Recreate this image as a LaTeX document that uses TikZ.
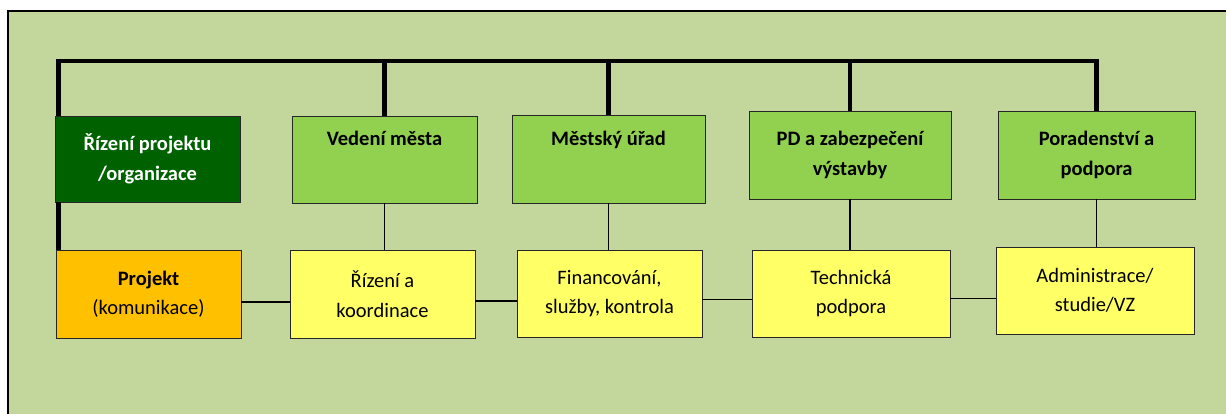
\documentclass[tikz,border=0pt]{standalone}
\usepackage{fontspec}
\setmainfont{Carlito}
\usepackage{tikz}
\usepackage{xcolor}
\usetikzlibrary{positioning, calc}
\definecolor{panelgreen}{HTML}{C3D69B}
\definecolor{headgreen}{HTML}{92D050}
\definecolor{darkhead}{HTML}{006100}
\definecolor{taskyellow}{HTML}{FFFF66}
\definecolor{projorange}{HTML}{FFC000}

\begin{document}
\begin{tikzpicture}[x=1pt,y=-1pt,
    box/.style={draw=black!85,line width=0.9pt,align=center,inner sep=2pt,
        font=\fontsize{20.5}{29.5}\selectfont},
    headbox/.style={box,fill=headgreen,font=\fontsize{20.5}{29.5}\selectfont\bfseries},
    taskbox/.style={box,fill=taskyellow},
    oneline/.style={text height=14pt,text depth=41pt},
    bus/.style={line width=4.5pt},
    link/.style={line width=1.6pt}]
\useasboundingbox (0,0) rectangle (1226,414);
% panel
\fill[panelgreen] (8,11) rectangle (1226,414);
\draw[line width=2pt] (8,414) -- (8,11) -- (1226,11);
% top row
\node[headbox,fill=darkhead,text=white,minimum width=185pt,minimum height=86pt] (rizeni) at (147.5,159) {Řízení projektu\\/organizace};
\node[headbox,oneline,minimum width=185pt,minimum height=87pt] (vedeni) at (384.5,159.5) {Vedení města};
\node[headbox,oneline,minimum width=193pt,minimum height=88pt] (urad) at (608.5,159) {Městský úřad};
\node[headbox,minimum width=202pt,minimum height=88pt] (pd) at (850,155) {PD a zabezpečení\\výstavby};
\node[headbox,minimum width=197pt,minimum height=88pt] (poradenstvi) at (1096.5,155) {Poradenství a\\podpora};
% bottom row
\node[taskbox,fill=projorange,minimum width=185pt,minimum height=88pt] (projekt) at (148.5,294) {\textbf{Projekt}\\(komunikace)};
\node[taskbox,minimum width=185pt,minimum height=88pt] (koordinace) at (382.5,294) {Řízení a\\koordinace};
\node[taskbox,minimum width=185pt,minimum height=87pt] (financovani) at (609.5,293.5) {Financování,\\služby, kontrola};
\node[taskbox,minimum width=198pt,minimum height=87pt] (technicka) at (851,293.5) {Technická\\podpora};
\node[taskbox,minimum width=198pt,minimum height=87pt] (administrace) at (1095,290.5) {Administrace/\\studie/VZ};
% bus
\coordinate (bus) at (0,61);
\draw[bus] ([xshift=4pt]rizeni.north west) -- ([xshift=4pt]rizeni.north west |- bus) -| (poradenstvi.north);
\foreach \n in {vedeni,urad,pd}
    \draw[bus] (\n.north) -- (\n.north |- bus);
\draw[bus] ([xshift=4pt]rizeni.south west) -- ([xshift=4pt]rizeni.south west |- projekt.north);
% links
\draw[link] (vedeni.south) -- (vedeni.south |- koordinace.north);
\draw[link] (urad.south) -- (urad.south |- financovani.north);
\draw[link] (pd.south) -- (pd.south |- technicka.north);
\draw[link] (poradenstvi.south) -- (poradenstvi.south |- administrace.north);
\draw[link] ([yshift=-8pt]projekt.east) -- ([yshift=-8pt]projekt.east -| koordinace.west);
\draw[link] ([yshift=-7pt]koordinace.east) -- ([yshift=-7pt]koordinace.east -| financovani.west);
\draw[link] ([yshift=-6pt]financovani.east) -- ([yshift=-6pt]financovani.east -| technicka.west);
\draw[link] ([yshift=-5pt]technicka.east) -- ([yshift=-5pt]technicka.east -| administrace.west);
\end{tikzpicture}
\end{document}
